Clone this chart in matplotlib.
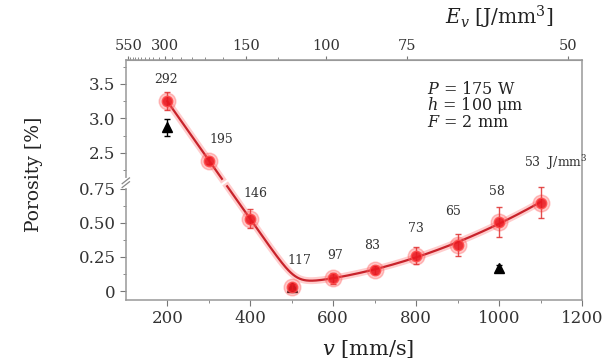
import numpy as np
import matplotlib
matplotlib.use('Agg')
import matplotlib.pyplot as plt
from matplotlib.ticker import FixedLocator

# scan speed [mm/s] and measured porosity [%]
speed = [200, 300, 400, 500, 600, 700, 800, 900, 1000, 1100]
porosity = [3.25, 2.39, 0.53, 0.03, 0.095, 0.155, 0.26, 0.34, 0.51, 0.65]
porosity_err = [0.13, 0.05, 0.07, 0.02, 0.04, 0.03, 0.065, 0.08, 0.11, 0.115]
energy = [292, 195, 146, 117, 97, 83, 73, 65, 58, 53]  # J/mm^3

# second series (triangles)
tri_speed = [200, 500, 1000]
tri_porosity = [2.87, 0.03, 0.17]
tri_err = [0.12, 0.0, 0.02]

yticks = [0, 0.25, 0.5, 0.75, 2.5, 3.0, 3.5]
ytick_labels = ['0', '0.25', '0.50', '0.75', '2.5', '3.0', '3.5']
yminor = [0.125, 0.375, 0.625, 2.25, 2.75, 3.25, 3.75]
xticks = [200, 400, 600, 800, 1000, 1200]
xminor = [300, 500, 700, 900, 1100]
ev_ticks = [550, 300, 150, 100, 75, 50]
ev_minor = list(range(50, 575, 25))

# label offsets in pixels (dx, dy)
label_offsets = [(-1, 22), (13, 21), (5, 25), (8, 26), (2, 23),
                 (-3, 24), (0, 27), (-5, 33), (-2, 30), (-17, 40)]

plt.rcParams['font.family'] = 'DejaVu Serif'
plt.rcParams['mathtext.fontset'] = 'dejavuserif'

"""broken y axis: lower part 0-0.79, upper part 2.07-3.85 (half the px per unit)"""
LOW_TOP = 0.794
HIGH_BOT = 2.072
ZB = 136 * LOW_TOP
GAP = (HIGH_BOT - LOW_TOP) * 0.4


def fwd(y):
    y = np.asarray(y, dtype=float)
    low = 136 * y
    mid = ZB + (y - LOW_TOP) * 0.4
    high = ZB + GAP + 69 * (y - HIGH_BOT)
    return np.where(y <= LOW_TOP, low, np.where(y >= HIGH_BOT, high, mid))


def inv(z):
    z = np.asarray(z, dtype=float)
    low = z / 136
    mid = LOW_TOP + (z - ZB) / 0.4
    high = HIGH_BOT + (z - ZB - GAP) / 69
    return np.where(z <= ZB, low, np.where(z >= ZB + GAP, high, mid))


EV_K = 175 / (0.1 * 0.03)  # P / (h * t)


def v_to_ev(v):
    v = np.asarray(v, dtype=float)
    with np.errstate(divide='ignore', invalid='ignore'):
        return EV_K / v


fig = plt.figure(figsize=(6.02, 3.61), dpi=100)
ax = fig.add_axes([0.209, 0.169, 0.758, 0.665])
ax.set_yscale('function', functions=(fwd, inv))
ax.set_xlim(100, 1200)
ax.set_ylim(-0.066, 3.847)

"""trend curve (display space): straight fall for low v, quadratic rise for
high v, joined with a smooth maximum"""
sp_arr = np.array(speed, dtype=float)
z_pts = fwd(porosity)
lin = np.polyfit(sp_arr[:3], z_pts[:3], 1)
quad = np.polyfit(sp_arr[4:], z_pts[4:], 2)
v_fine = np.linspace(speed[0], speed[-1], 500)
zl = np.polyval(lin, v_fine)
zq = np.polyval(quad, v_fine)
k = 10.0
z_fine = np.maximum(zl, zq) + k * np.log1p(np.exp(-np.abs(zl - zq) / k))
y_fine = inv(z_fine)
y_fine[(z_fine > ZB - 3) & (z_fine < ZB + GAP + 3)] = np.nan
ax.plot(v_fine, y_fine, color='#ff7070', lw=5, alpha=0.35, zorder=2)
ax.plot(v_fine, y_fine, color='#c8232b', lw=1.6, zorder=3)

ax.errorbar(tri_speed, tri_porosity, yerr=tri_err, fmt='^', color='black',
            ms=7, capsize=2.5, elinewidth=1, zorder=4)

ax.plot(speed, porosity, 'o', color='#ff6060', ms=12, alpha=0.35, zorder=5)
ax.errorbar(speed, porosity, yerr=porosity_err, fmt='o', color='#e8161e',
            ecolor='#e03030', mec='#ff4a4a', ms=7.5, capsize=2.5,
            elinewidth=1, alpha=0.85, zorder=6)

for v, p, e, (dx, dy) in zip(speed, porosity, energy, label_offsets):
    txt = str(e)
    ha = 'center'
    if e == energy[-1]:
        txt = str(e) + r'  J/mm$^3$'
        ha = 'left'
    ax.annotate(txt, (v, p), xytext=(dx, dy), textcoords='offset pixels',
                ha=ha, va='center', fontsize=9, color='#333333',
                annotation_clip=False)

ax.text(0.66, 0.808, '$P$ = 175 W\n$h$ = 100 μm\n$F$ = 2 mm',
        transform=ax.transAxes, fontsize=11.5, linespacing=0.85,
        va='center', ha='left', color='#222222')

ax.set_yticks(yticks, ytick_labels)
ax.yaxis.set_minor_locator(FixedLocator(yminor))
ax.set_xticks(xticks)
ax.xaxis.set_minor_locator(FixedLocator(xminor))
ax.tick_params(which='both', direction='out', color='#777777',
               labelsize=12, labelcolor='#333333', top=False, right=False)
ax.tick_params(which='major', length=4)
ax.tick_params(which='minor', length=2.5)
for sp in ax.spines.values():
    sp.set_color('#999999')
    sp.set_linewidth(1.1)

sec = ax.secondary_xaxis('top', functions=(v_to_ev, v_to_ev))
sec.set_xticks(ev_ticks, [str(e) for e in ev_ticks])
sec.xaxis.set_minor_locator(FixedLocator(ev_minor))
sec.tick_params(which='both', direction='out', color='#777777', labelsize=10.5,
                labelcolor='#333333', pad=2)
sec.tick_params(which='major', length=3)
sec.tick_params(which='minor', length=2)
sec.spines['top'].set_color('#999999')

# break mark on the left spine
zmin, zmax = fwd(-0.066), fwd(3.847)
yb = float((ZB + GAP / 2 - zmin) / (zmax - zmin))
ax.plot([0, 0], [yb - 0.012, yb + 0.012], color='white', lw=3,
        transform=ax.transAxes, clip_on=False, zorder=10)
for off in (-0.008, 0.008):
    ax.plot([-0.008, 0.008], [yb + off - 0.012, yb + off + 0.012],
            color='#888888', lw=0.9, transform=ax.transAxes, clip_on=False,
            zorder=11)

ax.set_xlabel(r'$v$ [mm/s]', fontsize=15, color='#222222')
ax.xaxis.set_label_coords(0.53, -0.16)
ax.set_ylabel('Porosity [%]', fontsize=13.5, color='#222222')
ax.yaxis.set_label_coords(-0.182, 0.525)
fig.text(499 / 602, 1 - 17 / 361, r'$E_v$ [J/mm$^3$]', ha='center',
         va='center', fontsize=14.5, color='#222222')

fig.savefig('out.png', dpi=100)
